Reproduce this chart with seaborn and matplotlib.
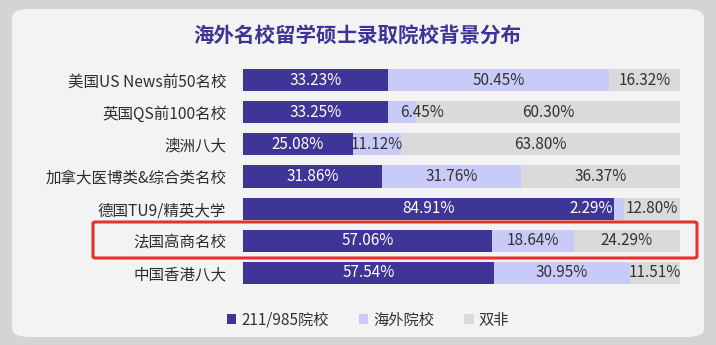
import matplotlib.pyplot as plt
import matplotlib.patches as mpatches
import seaborn as sns
import pandas as pd

# dados
escolas = ['美国US News前50名校', '英国QS前100名校', '澳洲八大', '加拿大医博类&综合类名校',
           '德国TU9/精英大学', '法国高商名校', '中国香港八大']
p_211 = [33.23, 33.25, 25.08, 31.86, 84.91, 57.06, 57.54]
p_hw = [50.45, 6.45, 11.12, 31.76, 2.29, 18.64, 30.95]
p_sf = [16.32, 60.30, 63.80, 36.37, 12.80, 24.29, 11.51]
series = ['211/985院校', '海外院校', '双非']
cores = ['#3f3597', '#c8cbf7', '#dadada']

sns.set_style('white')
plt.rcParams['font.family'] = ['Noto Sans CJK SC', 'DejaVu Sans']

df = pd.DataFrame({'escola': escolas, 'a': p_211, 'b': p_hw, 'c': p_sf})
df['ab'] = df['a'] + df['b']
df['abc'] = df['ab'] + df['c']

W, H = 716, 345
fig = plt.figure(figsize=(W / 100, H / 100), dpi=100, facecolor='#d4d4d4')

# cartão de fundo
card = mpatches.FancyBboxPatch((12 / W, 8 / H), 692 / W, 328 / H,
                               boxstyle='round,pad=0,rounding_size=0.025',
                               transform=fig.transFigure, facecolor='#f3f3f3',
                               edgecolor='none', zorder=-5)
fig.patches.append(card)

ax = fig.add_axes([243 / W, 1 - 289 / H, 437 / W, 225 / H])
ax.set_facecolor('none')

# barras empilhadas (de trás para frente)
for col, cor in zip(['abc', 'ab', 'a'], cores[::-1]):
    sns.barplot(data=df, x=col, y='escola', color=cor, orient='h', width=0.69,
                saturation=1, linewidth=0, ax=ax)

ax.set_xlim(0, 100)
ax.set_ylim(6.5, -0.5)
ax.set_xlabel('')
ax.set_ylabel('')
ax.set_xticks([])
ax.tick_params(axis='y', length=0, pad=12, labelsize=11.2, labelcolor='#2e2e2e')
sns.despine(ax=ax, left=True, bottom=True)

# rótulos de valor
fs = 11
for i in range(len(escolas)):
    segs = [(0, p_211[i], 'white'), (p_211[i], p_hw[i], '#333333'),
            (p_211[i] + p_hw[i], p_sf[i], '#333333')]
    for k, (ini, v, c) in enumerate(segs):
        txt = f'{v:.2f}%'
        if v < 3:
            ax.text(ini - 0.3, i, txt, ha='right', va='center', color='white', fontsize=fs)
        elif v < 8 and k == 1:
            ax.text(ini + 2.8, i, txt, ha='left', va='center', color=c, fontsize=fs)
        else:
            ax.text(ini + v / 2, i, txt, ha='center', va='center', color=c, fontsize=fs)

# título
fig.text(357 / W, 1 - 35 / H, '海外名校留学硕士录取院校背景分布', ha='center', va='center',
         fontsize=14.8, fontweight='bold', color='#3d3496')

# destaque vermelho
rect = mpatches.FancyBboxPatch((93 / W, 1 - 258 / H), 604 / W, 36 / H,
                               boxstyle='round,pad=0,rounding_size=0.004',
                               transform=fig.transFigure, facecolor='none',
                               edgecolor='#e5322b', linewidth=2.2, zorder=5)
fig.patches.append(rect)

# legenda
handles = [mpatches.Patch(facecolor=c, edgecolor='none') for c in cores]
fig.legend(handles, series, loc='center', bbox_to_anchor=(368 / W, 1 - 320 / H), ncol=3,
           frameon=False, fontsize=11, handlelength=0.6, handleheight=0.6,
           handletextpad=0.3, columnspacing=2.0, labelcolor='#333333')

plt.savefig('out.png', dpi=100, facecolor=fig.get_facecolor())
